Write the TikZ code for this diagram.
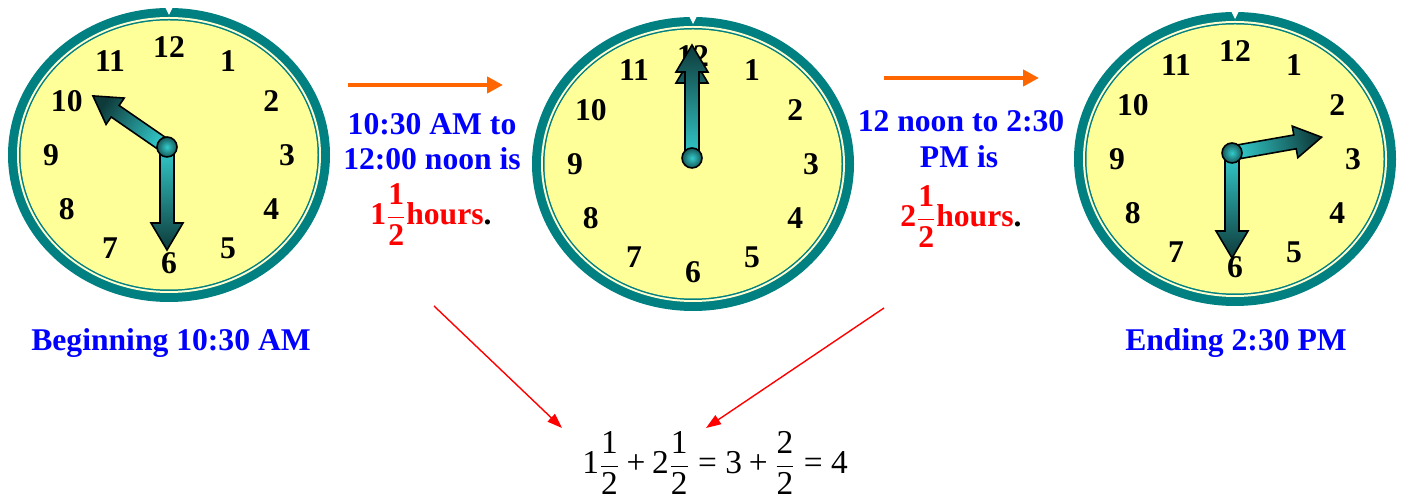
\documentclass[tikz,border=0pt]{standalone}
\usepackage{amsmath}
\usepackage{fontspec}
\setmainfont{Liberation Serif}
\usetikzlibrary{arrows.meta}
\definecolor{ring}{RGB}{0,128,128}
\definecolor{face}{RGB}{255,255,153}
\definecolor{paleface}{RGB}{255,255,210}
\definecolor{handlt}{RGB}{51,204,204}
\definecolor{handdk}{RGB}{14,58,58}
\definecolor{note}{RGB}{0,0,255}
\definecolor{part}{RGB}{255,0,0}
\definecolor{flow}{RGB}{255,102,0}
\tikzset{
  cnum/.style={font=\fontsize{18}{18}\selectfont\bfseries},
  cnote/.style={note,font=\fontsize{18}{20}\selectfont\bfseries,anchor=base},
  cpart/.style={part,font=\fontsize{18}{20}\selectfont\bfseries,anchor=base},
  cflow/.style={flow,line width=2.8pt,-{Triangle[length=9pt,width=9pt]}},
  cpoint/.style={part,line width=0.8pt,-{Triangle[length=8.5pt,width=6pt]}},
  chand/.style={draw=black,line width=0.9pt,top color=handdk,bottom color=handlt},
  cpin/.style={draw=black,line width=0.9pt,inner color=handlt,outer color=handdk!80!handlt},
}
\newcommand{\hfrac}[2]{\ensuremath{\genfrac{}{}{1pt}{0}{\text{#1}}{\text{#2}}}}
\newcommand{\tfr}[2]{\dfrac{\text{#1}}{\text{#2}}}
\newcommand{\tplus}{\mathbin{\text{+}}}
\newcommand{\teq}{\mathrel{\text{=}}}
% dial: centre x, centre y, prefix for the numeral nodes
\newcommand{\dial}[3]{%
  \fill[ring] (#1,#2) ellipse (161 and 147);
  \fill[paleface] (#1,#2) ellipse (152 and 138);
  \fill[ring] (#1,#2) ellipse (150 and 136);
  \fill[face] (#1,#2) ellipse (148.5 and 134.5);
  \fill[white] ({#1-4},{#2-148}) -- ({#1+4},{#2-148}) -- (#1,{#2-140}) -- cycle;
  \foreach \h in {1,...,12}
    \node[cnum] (#3\h) at ({#1+118*cos(90-30*\h)},{#2-108*sin(90-30*\h)}) {\h};}
% hand: pivot x, pivot y, angle, length
\newcommand{\hand}[4]{%
  \begin{scope}[shift={(#1,#2)},rotate=#3]
    \shade[chand,shading angle={#3-90}] (0,-7) -- ({#4-27},-7) -- ({#4-27},-16) -- (#4,0)
      -- ({#4-27},16) -- ({#4-27},7) -- (0,7) -- cycle;
  \end{scope}}
\begin{document}
\begin{tikzpicture}[x=0.02cm,y=-0.02cm]
  \useasboundingbox (0,0) rectangle (1403,502);
  % ---- clocks ----
  \dial{169}{155}{ca}
  \hand{167}{147}{145.4}{90}
  \hand{167}{147}{-90}{103}
  \shade[cpin] (167,147) circle (10);
  \dial{693}{164}{cb}
  \hand{692}{158}{90}{102}
  \hand{692}{158}{90}{113}
  \shade[cpin] (692,158) circle (10);
  \dial{1235}{159}{cc}
  \hand{1232}{153}{10}{91}
  \hand{1232}{153}{-90}{105}
  \shade[cpin] (1232,153) circle (10);
  % ---- notes between the clocks ----
  \node[cnote] (ta1) at (432,135) {10:30 AM to};
  \node[cnote] (ta2) at (432,170) {12:00 noon is};
  \node[cpart] (ta3) at (431,225) {1\hfrac{1}{2}hours\textcolor{black}{.}};
  \node[cnote] (tb1) at (961,132) {12 noon to 2:30};
  \node[cnote] (tb2) at (959,168) {PM is};
  \node[cpart] (tb3) at (961,227) {2\hfrac{1}{2}hours\textcolor{black}{.}};
  \node[cnote] (lbeg) at (171,351) {Beginning 10:30 AM};
  \node[cnote] (lend) at (1236,351) {Ending 2:30 PM};
  \node[font=\fontsize{19}{19}\selectfont,inner sep=0pt] (sum) at (715,463)
    {$\text{1}\tfr{1}{2}\tplus\text{2}\tfr{1}{2}\teq\text{3}\tplus\tfr{2}{2}\teq\text{4}$};
  % ---- arrows ----
  \coordinate (fa0) at (348,85);  \coordinate (fa1) at (503,85);
  \coordinate (fb0) at (884,78);  \coordinate (fb1) at (1039,78);
  \draw[cflow] (fa0) -- (fa1);
  \draw[cflow] (fb0) -- (fb1);
  \coordinate (pa0) at (434,306); \coordinate (pa1) at (562,428);
  \coordinate (pb0) at (884,308); \coordinate (pb1) at (706,428);
  \draw[cpoint] (pa0) -- (pa1);
  \draw[cpoint] (pb0) -- (pb1);
\end{tikzpicture}
\end{document}
